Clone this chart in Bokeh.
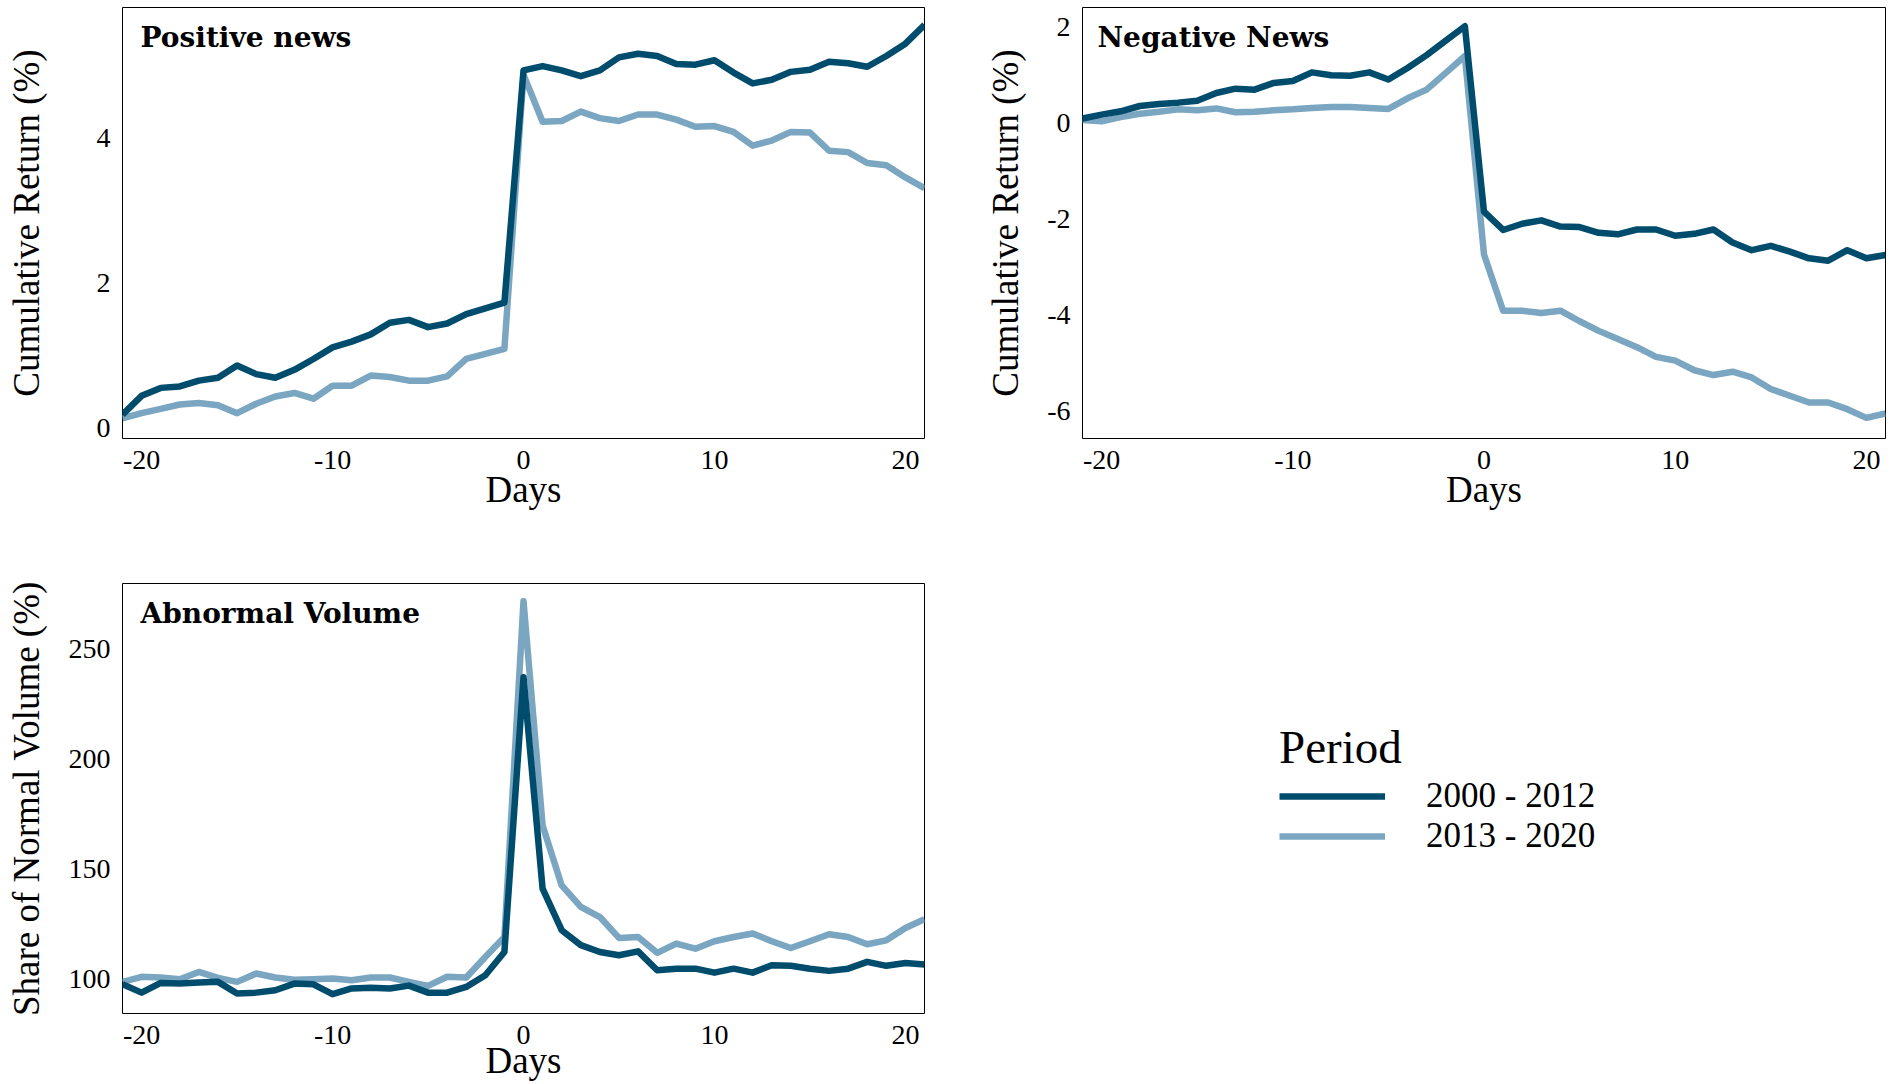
from bokeh.plotting import figure
from bokeh.models import Label, Legend, LegendItem, FixedTicker, Range1d
from bokeh.layouts import column, row
from bokeh.embed import file_html
from bokeh.resources import INLINE

# ---------------- data ----------------
days = list(range(-21, 22))
x_ticks = [-20, -10, 0, 10, 20]
x_tick_labels = ["-20", "-10", "0", "10", "20"]

periods = ["2000 - 2012", "2013 - 2020"]

pos_2000 = [0.18, 0.44, 0.55, 0.57, 0.65, 0.69, 0.86, 0.74, 0.69, 0.80, 0.95, 1.11, 1.19, 1.29, 1.45,
            1.49, 1.39, 1.44, 1.57, 1.65, 1.73,
            4.94, 5.00, 4.94, 4.86, 4.94, 5.12, 5.17, 5.14, 5.03, 5.02, 5.08, 4.91, 4.76, 4.81, 4.92,
            4.95, 5.06, 5.04, 4.99, 5.14, 5.31, 5.57]
pos_2013 = [0.13, 0.20, 0.26, 0.32, 0.34, 0.31, 0.20, 0.33, 0.43, 0.48, 0.40, 0.58, 0.58, 0.72, 0.70,
            0.65, 0.65, 0.71, 0.95, 1.02, 1.09,
            4.88, 4.23, 4.24, 4.37, 4.28, 4.24, 4.33, 4.33, 4.26, 4.16, 4.17, 4.09, 3.90, 3.97, 4.09,
            4.08, 3.83, 3.81, 3.66, 3.63, 3.46, 3.31]

neg_2000 = [0.09, 0.17, 0.24, 0.35, 0.39, 0.42, 0.46, 0.62, 0.71, 0.69, 0.83, 0.87, 1.05, 0.99, 0.98,
            1.05, 0.90, 1.14, 1.41, 1.71, 2.01,
            -1.85, -2.23, -2.10, -2.03, -2.16, -2.17, -2.29, -2.32, -2.22, -2.22, -2.35, -2.31, -2.22,
            -2.49, -2.65, -2.56, -2.68, -2.82, -2.87, -2.65, -2.82, -2.75]
neg_2013 = [0.06, 0.03, 0.12, 0.19, 0.23, 0.28, 0.26, 0.30, 0.22, 0.23, 0.26, 0.28, 0.31, 0.33, 0.33,
            0.31, 0.29, 0.51, 0.69, 1.04, 1.39,
            -2.74, -3.91, -3.91, -3.96, -3.91, -4.13, -4.33, -4.50, -4.67, -4.87, -4.95, -5.15, -5.25,
            -5.18, -5.30, -5.54, -5.68, -5.82, -5.82, -5.96, -6.14, -6.05]

vol_2000 = [97.4, 93.6, 98.0, 97.7, 98.2, 98.5, 93.2, 93.6, 94.7, 97.7, 97.4, 92.9, 95.5, 95.8, 95.5,
            96.8, 93.6, 93.6, 96.2, 101.5, 112.1,
            237.1, 140.9, 122.0, 115.2, 112.1, 110.6, 112.4, 103.8, 104.5, 104.5, 102.7, 104.5, 102.7,
            106.1, 105.8, 104.5, 103.5, 104.5, 107.6, 105.8, 107.1, 106.4]
vol_2013 = [98.5, 100.8, 100.5, 99.7, 103.0, 100.3, 98.5, 102.3, 100.5, 99.5, 99.7, 100.0, 99.2, 100.5,
            100.5, 98.5, 96.7, 100.8, 100.5, 109.8, 118.9,
            271.7, 169.7, 142.4, 132.6, 128.0, 118.5, 118.9, 111.7, 115.9, 113.6, 117.0, 118.9, 120.5,
            117.0, 113.9, 117.0, 120.2, 118.9, 115.6, 117.4, 123.0, 127.0]

pos_yticks = [0, 2, 4]
neg_yticks = [-6, -4, -2, 0, 2]
vol_yticks = [100, 150, 200, 250]

# ---------------- style ----------------
DARK = "#004C6D"
LIGHT = "#7AA6C2"
SERIF = "Liberation Serif"
BOLD_SERIF = "DejaVu Serif"
LW = 6.5


def panel(title, ylabel, data_a, data_b, y_range, yticks, width, height, borders, ylab_standoff,
          title_dx=18, xlab_standoff=-3):
    left, right, top, bottom = borders
    p = figure(width=width, height=height, output_backend="svg", toolbar_location=None,
               x_range=Range1d(-21, 21), y_range=Range1d(*y_range),
               min_border_left=left, min_border_right=right,
               min_border_top=top, min_border_bottom=bottom)
    p.xgrid.visible = False
    p.ygrid.visible = False
    p.outline_line_color = "black"
    p.outline_line_width = 1
    p.background_fill_color = "white"
    p.border_fill_color = "white"

    rb = p.line(days, data_b, line_color=LIGHT, line_width=LW, line_join="round")
    ra = p.line(days, data_a, line_color=DARK, line_width=LW, line_join="round")

    for ax in (p.xaxis[0], p.yaxis[0]):
        ax.axis_line_color = None
        ax.major_tick_line_color = None
        ax.minor_tick_line_color = None
        ax.major_tick_out = 0
        ax.major_tick_in = 0
        ax.major_label_text_font = SERIF
        ax.major_label_text_font_size = "28px"
        ax.major_label_text_color = "black"
        ax.axis_label_text_font = SERIF
        ax.axis_label_text_font_size = "37px"
        ax.axis_label_text_font_style = "normal"
        ax.axis_label_text_color = "black"

    p.xaxis.ticker = FixedTicker(ticks=x_ticks)
    p.xaxis.major_label_overrides = {t: s for t, s in zip(x_ticks, x_tick_labels)}
    p.xaxis.axis_label = "Days"
    p.xaxis.major_label_standoff = 12
    p.xaxis.axis_label_standoff = xlab_standoff

    p.yaxis.ticker = FixedTicker(ticks=yticks)
    p.yaxis.major_label_overrides = {t: str(t) for t in yticks}
    p.yaxis.axis_label = ylabel
    p.yaxis.major_label_standoff = 12
    p.yaxis.axis_label_standoff = ylab_standoff

    p.add_layout(Label(x=-21, y=y_range[1], x_offset=title_dx, y_offset=-30, text=title,
                       text_font=BOLD_SERIF, text_font_style="bold", text_font_size="28px",
                       text_color="black", text_baseline="alphabetic", text_align="left"))
    return p, ra, rb


p1, _, _ = panel("Positive news", "Cumulative Return (%)", pos_2000, pos_2013,
                 (-0.15, 5.81), pos_yticks, 964, 576, (122, 40, 7, 138), 47)
p2, _, _ = panel("Negative News", "Cumulative Return (%)", neg_2000, neg_2013,
                 (-6.57, 2.40), neg_yticks, 931, 576, (118, 10, 7, 138), 18, title_dx=15)
p3, _, _ = panel("Abnormal Volume", "Share of Normal Volume (%)", vol_2000, vol_2013,
                 (84.1, 279.8), vol_yticks, 964, 508, (122, 40, 7, 71), 19, xlab_standoff=-7)

# legend panel (no axes); key glyphs come from proxy renderers whose only point is NaN (nothing drawn)
p4 = figure(width=931, height=508, output_backend="svg", toolbar_location=None,
            x_range=Range1d(0, 1), y_range=Range1d(0, 1),
            x_axis_location=None, y_axis_location=None,
            min_border_left=0, min_border_right=0, min_border_top=0, min_border_bottom=0)
p4.xgrid.visible = False
p4.ygrid.visible = False
p4.outline_line_color = None
p4.background_fill_color = "white"
p4.border_fill_color = "white"
nan = float("nan")
la = p4.line(x=[nan], y=[nan], line_color=DARK, line_width=6.7)
lb = p4.line(x=[nan], y=[nan], line_color=LIGHT, line_width=6.7)

legend = Legend(
    items=[LegendItem(label=periods[0], renderers=[la]),
           LegendItem(label=periods[1], renderers=[lb])],
    location=(315, 157),
    title="Period",
    title_text_font=SERIF, title_text_font_size="47px", title_text_font_style="normal",
    title_text_color="black", title_standoff=2,
    label_text_font=SERIF, label_text_font_size="35px", label_text_color="black",
    glyph_width=106, glyph_height=38, label_height=38, label_standoff=41,
    spacing=0, padding=10, margin=0,
    border_line_color=None, background_fill_alpha=0,
)
p4.add_layout(legend, "center")

layout = column(row(p1, p2), row(p3, p4))

with open("out.html", "w") as f:
    f.write(file_html(layout, INLINE))
